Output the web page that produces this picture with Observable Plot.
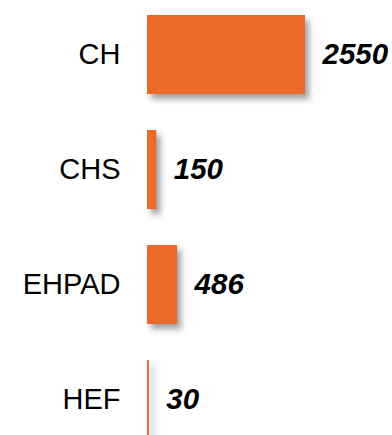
<!DOCTYPE html>
<html>
<head>
<meta charset="utf-8">
<script src="https://cdn.jsdelivr.net/npm/d3@7"></script>
<script src="https://cdn.jsdelivr.net/npm/@observablehq/plot@0.6"></script>
<style>
  html, body { margin: 0; padding: 0; background: #fff; }
  svg g[aria-label="bar"] rect { filter: drop-shadow(4px 5px 3px rgba(0,0,0,0.38)); }
</style>
</head>
<body>
<div id="chart"></div>
<script>
const categories = ["CH", "CHS", "EHPAD", "HEF"];
const values = [2550, 150, 486, 30];

const data = categories.map((c, i) => ({category: c, value: values[i]}));

const chart = Plot.plot({
  width: 392,
  height: 435,
  marginLeft: 147,
  marginRight: 87,
  marginTop: 0,
  marginBottom: 0,
  style: {fontFamily: "'Liberation Sans', Arial, sans-serif", background: "#fff", color: "#000"},
  x: {domain: [0, 2550], axis: null},
  y: {domain: categories, range: [13, 441], paddingInner: 0.31, paddingOuter: 0, align: 0.5, label: null},
  marks: [
    Plot.barX(data, {x: "value", y: "category", fill: "#EB6A2A"}),
    Plot.axisY({tickSize: 0, tickPadding: 27, fontSize: 29, fill: "#000", label: null}),
    Plot.text(data, {
      x: "value", y: "category", text: d => String(d.value),
      dx: 17, textAnchor: "start", fontSize: 29.5, fontWeight: "bold",
      fontStyle: "italic", fill: "#000"
    })
  ]
});
document.getElementById("chart").appendChild(chart);
</script>
</body>
</html>
